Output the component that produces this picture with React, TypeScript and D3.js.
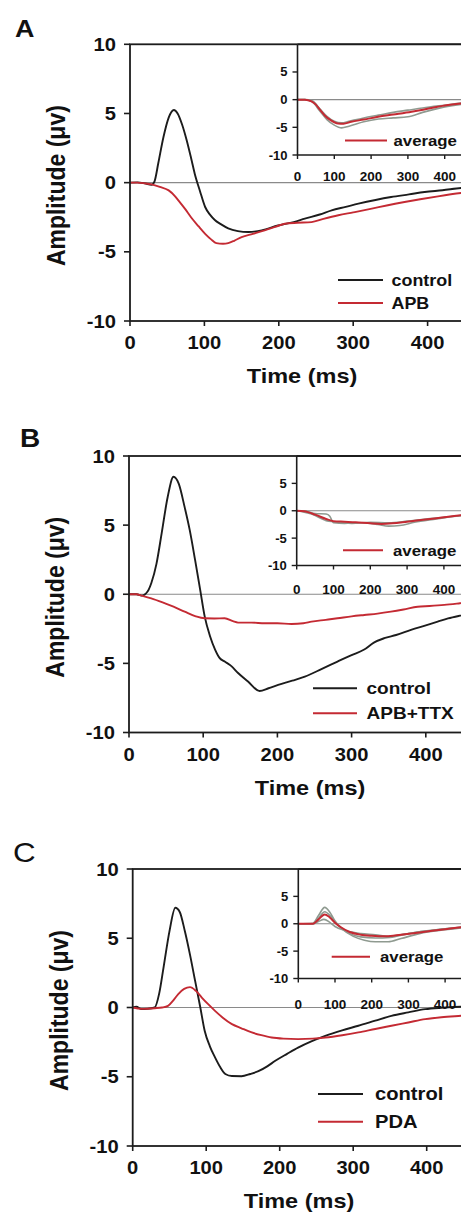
import React from 'react';
import * as d3 from 'd3';

type P = [number, number];

// ---------- data ----------
const xTicks = [0, 100, 200, 300, 400];
const yTicks = [-10, -5, 0, 5, 10];
const insetXTicks = [0, 100, 200, 300, 400];
const insetYTicks = [-10, -5, 0, 5];
const panelLetters = ['A', 'B', 'C'];
const drugLabels = ['APB', 'APB+TTX', 'PDA'];
const controlLabel = 'control';
const averageLabel = 'average';
const xTitle = 'Time (ms)';
const yTitle = 'Amplitude (\u03bcv)';

const aControl: P[] = [[0,0],[10,0.02],[20,-0.05],[29,-0.15],[33,0.1],[38,1.4],[45,3.3],[52,4.7],[59,5.25],[64,5.0],[70,4.2],[76,3.1],[82,1.8],[87,0.65],[94,-0.6],[101,-1.76],[108,-2.35],[114,-2.7],[122,-3.0],[132,-3.3],[145,-3.5],[159,-3.57],[177,-3.45],[199,-3.1],[220,-2.85],[235,-2.6],[255,-2.3],[271,-2.0],[290,-1.75],[307,-1.52],[330,-1.25],[351,-1.04],[375,-0.85],[396,-0.68],[420,-0.55],[445,-0.39],[470,-0.3],[500,-0.2]];
const aDrug: P[] = [[0,0],[10,0],[20,-0.05],[29,-0.12],[40,-0.3],[52,-0.56],[60,-0.95],[65,-1.28],[74,-1.9],[82,-2.5],[92,-3.15],[101,-3.7],[109,-4.1],[116,-4.37],[125,-4.42],[132,-4.37],[140,-4.2],[150,-3.93],[165,-3.7],[181,-3.45],[195,-3.2],[208,-2.97],[225,-2.9],[244,-2.85],[260,-2.62],[280,-2.36],[300,-2.15],[325,-1.88],[345,-1.65],[369,-1.4],[390,-1.2],[414,-0.99],[445,-0.75],[470,-0.6],[500,-0.45]];
const aAverage: P[] = [[0,0],[20,0],[38,-0.3],[50,-0.9],[62,-1.9],[74,-2.86],[90,-3.7],[110,-4.3],[125,-4.35],[146,-4.0],[180,-3.6],[219,-3.1],[260,-2.7],[310,-2.2],[350,-1.7],[400,-1.07],[445,-0.7],[500,-0.4]];
const aTrace1: P[] = [[0,0],[20,0],[40,-0.4],[60,-2.0],[80,-3.6],[100,-4.6],[120,-5.1],[140,-4.8],[180,-4.0],[220,-3.5],[260,-3.3],[300,-3.1],[340,-2.3],[400,-1.3],[450,-0.8],[500,-0.5]];
const aTrace2: P[] = [[0,0],[20,0],[40,-0.2],[60,-1.6],[80,-3.0],[100,-3.9],[120,-4.2],[140,-3.9],[180,-3.3],[220,-2.8],[260,-2.3],[300,-1.9],[340,-1.5],[400,-1.0],[450,-0.6],[500,-0.4]];

const bControl: P[] = [[0,0],[10,0],[17,-0.1],[25,0.2],[30,0.8],[37,2.2],[44,4.4],[52,7.0],[60,8.5],[67,8.0],[75,6.3],[82,4.6],[89,2.5],[96,0.3],[102,-1.6],[109,-3.0],[116,-4.0],[122,-4.6],[129,-4.87],[138,-5.2],[147,-5.7],[160,-6.3],[176,-7.0],[188,-6.8],[201,-6.56],[220,-6.25],[237,-5.96],[260,-5.4],[281,-4.87],[300,-4.4],[317,-4.0],[330,-3.5],[344,-3.18],[360,-2.95],[380,-2.58],[400,-2.25],[416,-1.98],[430,-1.75],[446,-1.55],[470,-1.3],[500,-1.0]];
const bDrug: P[] = [[0,0],[10,0],[17,-0.1],[30,-0.3],[48,-0.65],[60,-0.9],[75,-1.26],[90,-1.6],[102,-1.74],[115,-1.75],[129,-1.74],[140,-1.95],[147,-2.05],[165,-2.05],[183,-2.1],[200,-2.1],[219,-2.15],[235,-2.1],[246,-1.98],[265,-1.85],[281,-1.74],[300,-1.6],[317,-1.5],[335,-1.4],[353,-1.26],[370,-1.1],[389,-0.9],[405,-0.85],[425,-0.77],[446,-0.65],[470,-0.5],[500,-0.4]];
const bAverage: P[] = [[0,0],[20,-0.1],[50,-0.7],[80,-1.5],[100,-1.9],[130,-2.0],[160,-2.1],[200,-2.3],[230,-2.4],[260,-2.3],[300,-2.0],[350,-1.6],[400,-1.2],[450,-0.8],[500,-0.5]];
const bTrace1: P[] = [[0,0],[20,0],[50,-0.5],[80,-0.6],[90,-1.0],[100,-2.2],[130,-2.3],[170,-2.2],[220,-2.5],[250,-2.8],[280,-2.7],[320,-2.1],[380,-1.5],[450,-0.8],[500,-0.5]];
const bTrace2: P[] = [[0,0],[40,-0.6],[80,-1.8],[100,-2.0],[150,-2.3],[200,-2.1],[250,-2.2],[300,-1.9],[350,-1.5],[450,-0.9],[500,-0.6]];

const cControl: P[] = [[0,0],[5,0.05],[12,-0.12],[20,-0.1],[30,0],[36,1.0],[42,2.9],[50,5.5],[58,7.2],[64,6.9],[71,5.5],[78,3.8],[85,1.9],[92,0.0],[98,-1.7],[105,-2.8],[112,-3.6],[119,-4.3],[126,-4.8],[135,-4.95],[148,-4.96],[160,-4.8],[171,-4.6],[183,-4.25],[194,-3.85],[210,-3.35],[225,-2.9],[243,-2.45],[262,-2.05],[285,-1.65],[307,-1.32],[330,-0.95],[352,-0.6],[375,-0.35],[398,-0.12],[420,-0.02],[447,0.05],[475,0.05],[500,0.05]];
const cDrug: P[] = [[0,0],[12,-0.1],[30,-0.05],[40,0.0],[48,0.12],[55,0.5],[62,0.97],[70,1.35],[78,1.47],[86,1.2],[94,0.72],[103,0.22],[112,-0.24],[123,-0.75],[135,-1.2],[148,-1.5],[162,-1.8],[175,-2.0],[189,-2.17],[205,-2.25],[225,-2.28],[245,-2.25],[262,-2.17],[285,-2.0],[307,-1.8],[330,-1.55],[352,-1.32],[375,-1.08],[398,-0.84],[420,-0.7],[447,-0.6],[475,-0.5],[500,-0.45]];
const cAverage: P[] = [[0,0],[40,0],[55,0.8],[72,1.7],[85,1.2],[100,0.2],[115,-0.6],[140,-1.5],[170,-2.0],[200,-2.2],[240,-2.3],[280,-2.0],[330,-1.6],[400,-1.0],[450,-0.6],[500,-0.4]];
const cTrace1: P[] = [[0,0],[40,0.1],[55,1.5],[72,3.0],[85,2.2],[100,0.5],[120,-1.0],[150,-2.3],[180,-3.0],[210,-3.3],[245,-3.3],[280,-2.7],[330,-1.8],[400,-1.1],[450,-0.7],[500,-0.4]];
const cTrace2: P[] = [[0,0],[40,0],[55,0.4],[70,0.8],[85,0.3],[100,-0.5],[130,-1.3],[170,-1.8],[210,-2.0],[250,-2.3],[290,-1.9],[340,-1.4],[400,-0.9],[450,-0.6],[500,-0.4]];
const cTrace3: P[] = [[0,0],[40,0],[55,1.0],[72,2.2],[88,1.4],[105,0.0],[130,-1.4],[170,-2.4],[210,-2.6],[250,-2.5],[300,-1.8],[350,-1.3],[400,-0.9],[450,-0.6],[500,-0.4]];

// ---------- layout (positions only) ----------
const layouts = [
  { letter: { x: 15, y: 37, size: 24, weight: 700 }, left: 130, top: 44.3, bottom: 321, per100: 74.4, titleX: 302,
    inset: { left: 297.5, bottom: 155, per100: 36.8, labDy: 26 },
    legend: { x1: 338, x2: 383, tx: 391.5, y1: 280, y2: 303, size: 16 },
    insetLegend: { x1: 345, x2: 387, tx: 393.5, y: 140.5 } },
  { letter: { x: 20, y: 446.7, size: 25, weight: 700 }, left: 129, top: 456, bottom: 732.5, per100: 74.2, titleX: 310,
    inset: { left: 296.7, bottom: 565.5, per100: 36.8, labDy: 28 },
    legend: { x1: 313, x2: 357, tx: 366.5, y1: 688.3, y2: 713.3, size: 17 },
    insetLegend: { x1: 343, x2: 383, tx: 393, y: 550.3 } },
  { letter: { x: 13, y: 861.5, size: 28, weight: 400 }, left: 132.7, top: 869, bottom: 1146, per100: 73.5, titleX: 299,
    inset: { left: 298.3, bottom: 978.5, per100: 36.7, labDy: 30 },
    legend: { x1: 318, x2: 363, tx: 375, y1: 1094, y2: 1121.7, size: 18 },
    insetLegend: { x1: 331.7, x2: 370, tx: 380, y: 956.7 } },
];

const panelData = [
  { control: aControl, drug: aDrug, average: aAverage, traces: [aTrace1, aTrace2] },
  { control: bControl, drug: bDrug, average: bAverage, traces: [bTrace1, bTrace2] },
  { control: cControl, drug: cDrug, average: cAverage, traces: [cTrace1, cTrace2, cTrace3] },
];

const FONT = '"Liberation Sans", Arial, Helvetica, sans-serif';
const BLACK = '#1c1c1c';
const RED = '#c42a33';
const GRAY = '#8f9a90';
const ZERO = '#8a8a8a';
const SX = 1.12;

function ST(props: { x: number; y: number; size: number; anchor?: string; weight?: number; sx?: number; rotate?: number; children: any; fill?: string }) {
  const { x, y, size, anchor = 'start', weight = 700, sx = SX, rotate, children, fill = '#111' } = props;
  return (
    <text
      transform={`translate(${x},${y}) scale(${sx},1)${rotate ? ` rotate(${rotate})` : ''}`}
      textAnchor={anchor as any}
      fontSize={size}
      fontWeight={weight}
      fontFamily={FONT}
      fill={fill}
    >
      {children}
    </text>
  );
}

function Panel({ idx }: { idx: number }) {
  const L = layouts[idx];
  const D = panelData[idx];
  const right = L.left + 5 * L.per100;
  const x = d3.scaleLinear().domain([0, 500]).range([L.left, right]);
  const y = d3.scaleLinear().domain([-10, 10]).range([L.bottom, L.top]);
  const iRight = L.inset.left + 5 * L.inset.per100;
  const xi = d3.scaleLinear().domain([0, 500]).range([L.inset.left, iRight]);
  const yi = d3.scaleLinear().domain([-10, 10]).range([L.inset.bottom, L.top]);
  const line = d3.line<P>().x(d => x(d[0])).y(d => y(d[1])).curve(d3.curveMonotoneX);
  const iline = d3.line<P>().x(d => xi(d[0])).y(d => yi(d[1])).curve(d3.curveMonotoneX);
  const clipId = `clip${idx}`;
  const iclipId = `iclip${idx}`;

  return (
    <g>
      <defs>
        <clipPath id={clipId}><rect x={L.left} y={L.top} width={right - L.left} height={L.bottom - L.top} /></clipPath>
        <clipPath id={iclipId}><rect x={L.inset.left} y={L.top} width={iRight - L.inset.left} height={L.inset.bottom - L.top} /></clipPath>
      </defs>
      <ST x={L.letter.x} y={L.letter.y} size={L.letter.size} weight={L.letter.weight}>{panelLetters[idx]}</ST>

      {/* zero line */}
      <line x1={x(0)} x2={right} y1={y(0)} y2={y(0)} stroke={ZERO} strokeWidth={1.2} />

      {/* main curves */}
      <g clipPath={`url(#${clipId})`}>
        <path d={line(D.control) || ''} fill="none" stroke={BLACK} strokeWidth={1.9} />
        <path d={line(D.drug) || ''} fill="none" stroke={RED} strokeWidth={1.9} />
      </g>

      {/* frame */}
      <rect x={L.left} y={L.top} width={right - L.left} height={L.bottom - L.top} fill="none" stroke={BLACK} strokeWidth={1.8} />

      {/* y ticks */}
      {yTicks.map(t => (
        <g key={'y' + t}>
          <line x1={L.left - 6} x2={L.left} y1={y(t)} y2={y(t)} stroke={BLACK} strokeWidth={1.6} />
          <ST x={L.left - 14} y={y(t) + 6.5} size={18} anchor="end">{t}</ST>
        </g>
      ))}
      {/* x ticks */}
      {xTicks.map(t => (
        <g key={'x' + t}>
          <line x1={x(t)} x2={x(t)} y1={L.bottom} y2={L.bottom + 5} stroke={BLACK} strokeWidth={1.6} />
          <ST x={x(t)} y={L.bottom + 28} size={18} anchor="middle">{t}</ST>
        </g>
      ))}
      <ST x={L.titleX} y={L.bottom + 62} size={21} anchor="middle">{xTitle}</ST>
      <ST x={L.left - 65} y={(L.top + L.bottom) / 2 + 3} size={23} anchor="middle" rotate={-90}>{yTitle}</ST>

      {/* legend */}
      <line x1={L.legend.x1} x2={L.legend.x2} y1={L.legend.y1} y2={L.legend.y1} stroke={BLACK} strokeWidth={2} />
      <ST x={L.legend.tx} y={L.legend.y1 + L.legend.size * 0.36} size={L.legend.size}>{controlLabel}</ST>
      <line x1={L.legend.x1} x2={L.legend.x2} y1={L.legend.y2} y2={L.legend.y2} stroke={RED} strokeWidth={2} />
      <ST x={L.legend.tx} y={L.legend.y2 + L.legend.size * 0.36} size={L.legend.size}>{drugLabels[idx]}</ST>

      {/* inset */}
      <rect x={L.inset.left} y={L.top} width={iRight - L.inset.left} height={L.inset.bottom - L.top} fill="#fff" />
      <line x1={L.inset.left} x2={iRight} y1={yi(0)} y2={yi(0)} stroke={ZERO} strokeWidth={1.1} />
      <g clipPath={`url(#${iclipId})`}>
        {D.traces.map((tr, k) => (
          <path key={k} d={iline(tr) || ''} fill="none" stroke={GRAY} strokeWidth={1.6} />
        ))}
        <path d={iline(D.average) || ''} fill="none" stroke={RED} strokeWidth={2} />
      </g>
      <line x1={L.inset.left} x2={L.inset.left} y1={L.top} y2={L.inset.bottom} stroke={BLACK} strokeWidth={1.6} />
      <line x1={L.inset.left} x2={iRight} y1={L.inset.bottom} y2={L.inset.bottom} stroke={BLACK} strokeWidth={1.6} />
      <line x1={L.inset.left} x2={iRight} y1={L.top} y2={L.top} stroke={BLACK} strokeWidth={1.8} />
      {insetYTicks.map(t => (
        <g key={'iy' + t}>
          <line x1={L.inset.left - 5} x2={L.inset.left} y1={yi(t)} y2={yi(t)} stroke={BLACK} strokeWidth={1.4} />
          <ST x={L.inset.left - 10} y={yi(t) + 4.5} size={13} anchor="end" sx={1}>{t}</ST>
        </g>
      ))}
      {insetXTicks.map(t => (
        <g key={'ix' + t}>
          <line x1={xi(t)} x2={xi(t)} y1={L.inset.bottom} y2={L.inset.bottom + 4} stroke={BLACK} strokeWidth={1.4} />
          <ST x={xi(t)} y={L.inset.bottom + L.inset.labDy} size={13.5} anchor="middle" sx={1}>{t}</ST>
        </g>
      ))}
      <line x1={L.insetLegend.x1} x2={L.insetLegend.x2} y1={L.insetLegend.y} y2={L.insetLegend.y} stroke={RED} strokeWidth={2} />
      <ST x={L.insetLegend.tx} y={L.insetLegend.y + 5.5} size={15}>{averageLabel}</ST>
    </g>
  );
}

export default function App() {
  return (
    <svg
      width={461}
      height={1218}
      viewBox="0 0 461 1218"
      style={{ position: 'absolute', left: 0, top: 0, background: '#fff', display: 'block' }}
    >
      <rect x={0} y={0} width={461} height={1218} fill="#fff" />
      {layouts.map((_, i) => (
        <Panel key={i} idx={i} />
      ))}
    </svg>
  );
}
